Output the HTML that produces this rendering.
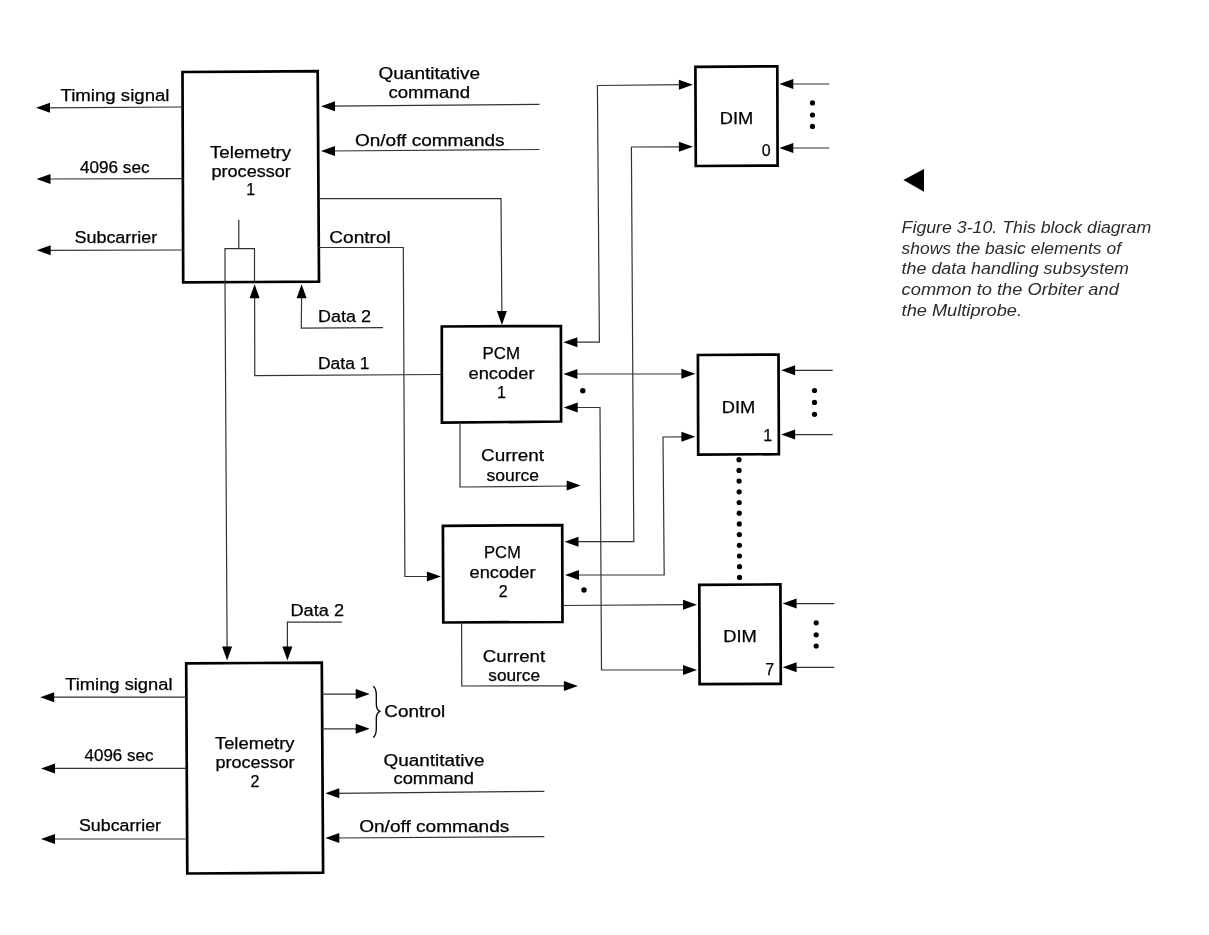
<!DOCTYPE html>
<html><head><meta charset="utf-8"><style>
html,body{margin:0;padding:0;background:#fff;}
body{width:1209px;height:935px;overflow:hidden;}
svg{display:block;will-change:transform;}
.t{font-family:"Liberation Sans",sans-serif;fill:#000;stroke:#000;stroke-width:0.25px;}
.l{stroke:#333;stroke-width:1.2px;fill:none;}
.c{font-family:"Liberation Sans",sans-serif;font-style:italic;fill:#2b2b2b;stroke:none;}
</style></head><body>
<svg width="1209" height="935" viewBox="0 0 1209 935" stroke="#000" fill="#000">
<polygon points="182.5,72 317.7,71.2 319,281.7 183.2,282.3" fill="none" stroke-width="2.7" stroke-linejoin="miter"/>
<line class="l" x1="182.5" y1="107" x2="40" y2="107.8"/>
<polygon points="36.0,107.8 50.0,102.8 50.0,112.8" stroke="none"/>
<line class="l" x1="182.7" y1="178.7" x2="40" y2="179"/>
<polygon points="36.5,179.0 50.5,174.0 50.5,184.0" stroke="none"/>
<line class="l" x1="183" y1="250" x2="40" y2="250.3"/>
<polygon points="36.7,250.3 50.7,245.3 50.7,255.3" stroke="none"/>
<text class="t" x="60.5" y="101.0" textLength="109.0" lengthAdjust="spacingAndGlyphs" font-size="16">Timing signal</text>
<text class="t" x="80.0" y="172.8" textLength="69.5" lengthAdjust="spacingAndGlyphs" font-size="16">4096 sec</text>
<text class="t" x="74.5" y="243.2" textLength="82.7" lengthAdjust="spacingAndGlyphs" font-size="16">Subcarrier</text>
<text class="t" x="210.0" y="157.5" textLength="81.0" lengthAdjust="spacingAndGlyphs" font-size="16">Telemetry</text>
<text class="t" x="211.5" y="176.5" textLength="79.3" lengthAdjust="spacingAndGlyphs" font-size="16">processor</text>
<text class="t" x="250.8" y="195.0" text-anchor="middle" font-size="16">1</text>
<line class="l" x1="539.5" y1="104.3" x2="330" y2="106.2"/>
<polygon points="321.0,106.2 335.0,101.2 335.0,111.2" stroke="none"/>
<line class="l" x1="539.5" y1="149.5" x2="330" y2="151"/>
<polygon points="321.0,151.0 335.0,146.0 335.0,156.0" stroke="none"/>
<text class="t" x="378.5" y="79.3" textLength="101.5" lengthAdjust="spacingAndGlyphs" font-size="16">Quantitative</text>
<text class="t" x="388.5" y="97.6" textLength="81.5" lengthAdjust="spacingAndGlyphs" font-size="16">command</text>
<text class="t" x="355.0" y="145.5" textLength="149.5" lengthAdjust="spacingAndGlyphs" font-size="16">On/off commands</text>
<polyline class="l" points="318.5,198.6 501,198.6 501.9,315"/>
<polygon points="501.9,325.0 496.9,311.0 506.9,311.0" stroke="none"/>
<polyline class="l" points="225,282 225,248.7 254.5,248.7 254.5,282"/>
<line class="l" x1="238.8" y1="219.7" x2="238.8" y2="248.7"/>
<line class="l" x1="225" y1="282" x2="227.1" y2="650"/>
<polygon points="227.1,660.6 222.1,646.6 232.1,646.6" stroke="none"/>
<polyline class="l" points="441.5,374.5 254.8,375.7 254.6,294"/>
<polygon points="254.6,284.2 249.6,298.2 259.6,298.2" stroke="none"/>
<text class="t" x="318.0" y="369.3" textLength="51.5" lengthAdjust="spacingAndGlyphs" font-size="16">Data 1</text>
<polyline class="l" points="383,327.6 301.3,328.2 301.6,294"/>
<polygon points="301.6,284.2 296.6,298.2 306.6,298.2" stroke="none"/>
<text class="t" x="318.0" y="321.8" textLength="53.0" lengthAdjust="spacingAndGlyphs" font-size="16">Data 2</text>
<polyline class="l" points="319,247.5 403.3,247.5 404.9,576.5 432,576.5"/>
<polygon points="440.9,576.5 426.9,571.5 426.9,581.5" stroke="none"/>
<text class="t" x="329.3" y="242.5" textLength="61.5" lengthAdjust="spacingAndGlyphs" font-size="16">Control</text>
<polygon points="441.8,326.5 560.9,326 561.1,421.5 441.9,422.7" fill="none" stroke-width="2.7" stroke-linejoin="miter"/>
<text class="t" x="482.5" y="359.0" textLength="37.5" lengthAdjust="spacingAndGlyphs" font-size="16">PCM</text>
<text class="t" x="468.5" y="378.9" textLength="66.0" lengthAdjust="spacingAndGlyphs" font-size="16">encoder</text>
<text class="t" x="501.5" y="398.0" text-anchor="middle" font-size="16">1</text>
<polyline class="l" points="685,84.7 597.4,85.5 599.4,342.2 572,342.2"/>
<polygon points="692.9,84.7 678.9,79.7 678.9,89.7" stroke="none"/>
<polygon points="563.4,342.2 577.4,337.2 577.4,347.2" stroke="none"/>
<polyline class="l" points="685,146.8 631.4,147 633.8,541.7 572,541.7"/>
<polygon points="692.9,146.8 678.9,141.8 678.9,151.8" stroke="none"/>
<polygon points="564.5,541.7 578.5,536.7 578.5,546.7" stroke="none"/>
<line class="l" x1="572" y1="374" x2="687" y2="374"/>
<polygon points="563.4,374.0 577.4,369.0 577.4,379.0" stroke="none"/>
<polygon points="695.4,373.8 681.4,368.8 681.4,378.8" stroke="none"/>
<circle cx="582.8" cy="390.8" r="2.7" stroke="none"/>
<polyline class="l" points="572,407.5 600,407.5 601.5,670 688,670"/>
<polygon points="563.7,407.5 577.7,402.5 577.7,412.5" stroke="none"/>
<polygon points="697.0,670.0 683.0,665.0 683.0,675.0" stroke="none"/>
<polyline class="l" points="460,422 460,487 570,486"/>
<polygon points="580.7,485.6 566.7,480.6 566.7,490.6" stroke="none"/>
<text class="t" x="481.0" y="461.4" textLength="63.0" lengthAdjust="spacingAndGlyphs" font-size="16">Current</text>
<text class="t" x="486.5" y="480.9" textLength="52.5" lengthAdjust="spacingAndGlyphs" font-size="16">source</text>
<polygon points="695.4,66.8 777.3,66.4 777.6,165.6 695.8,166" fill="none" stroke-width="2.7" stroke-linejoin="miter"/>
<line class="l" x1="829.4" y1="84" x2="788" y2="84"/>
<polygon points="779.3,84.0 793.3,79.0 793.3,89.0" stroke="none"/>
<line class="l" x1="829.4" y1="148" x2="788" y2="148"/>
<polygon points="779.3,148.0 793.3,143.0 793.3,153.0" stroke="none"/>
<circle cx="812.5" cy="102.9" r="2.6" stroke="none"/>
<circle cx="812.5" cy="115" r="2.6" stroke="none"/>
<circle cx="812.5" cy="126.4" r="2.6" stroke="none"/>
<text class="t" x="719.8" y="124.4" textLength="33.5" lengthAdjust="spacingAndGlyphs" font-size="16">DIM</text>
<text class="t" x="766.1" y="155.5" text-anchor="middle" font-size="16">0</text>
<polygon points="697.9,355 778.5,354.6 778.9,454.2 698.2,454.6" fill="none" stroke-width="2.7" stroke-linejoin="miter"/>
<line class="l" x1="832.7" y1="370.3" x2="790" y2="370.3"/>
<polygon points="781.1,370.3 795.1,365.3 795.1,375.3" stroke="none"/>
<line class="l" x1="832.7" y1="434.6" x2="790" y2="434.6"/>
<polygon points="781.1,434.6 795.1,429.6 795.1,439.6" stroke="none"/>
<circle cx="814.5" cy="390.5" r="2.6" stroke="none"/>
<circle cx="814.5" cy="402.4" r="2.6" stroke="none"/>
<circle cx="814.5" cy="414.3" r="2.6" stroke="none"/>
<text class="t" x="721.8" y="413.0" textLength="33.5" lengthAdjust="spacingAndGlyphs" font-size="16">DIM</text>
<text class="t" x="767.8" y="441.0" text-anchor="middle" font-size="16">1</text>
<polyline class="l" points="687,436.8 663,437 664.2,575 574,575"/>
<polygon points="695.4,436.8 681.4,431.8 681.4,441.8" stroke="none"/>
<polygon points="565.0,575.0 579.0,570.0 579.0,580.0" stroke="none"/>
<circle cx="739.0" cy="459.7" r="2.6" stroke="none"/>
<circle cx="739.05" cy="470.4" r="2.6" stroke="none"/>
<circle cx="739.1" cy="481.09999999999997" r="2.6" stroke="none"/>
<circle cx="739.15" cy="491.79999999999995" r="2.6" stroke="none"/>
<circle cx="739.2" cy="502.5" r="2.6" stroke="none"/>
<circle cx="739.25" cy="513.2" r="2.6" stroke="none"/>
<circle cx="739.3" cy="523.9" r="2.6" stroke="none"/>
<circle cx="739.35" cy="534.6" r="2.6" stroke="none"/>
<circle cx="739.4" cy="545.3" r="2.6" stroke="none"/>
<circle cx="739.45" cy="556.0" r="2.6" stroke="none"/>
<circle cx="739.5" cy="566.7" r="2.6" stroke="none"/>
<circle cx="739.55" cy="577.4" r="2.6" stroke="none"/>
<polygon points="442.9,525.8 562.2,525.2 562.5,622 443.3,622.5" fill="none" stroke-width="2.7" stroke-linejoin="miter"/>
<text class="t" x="484.0" y="558.4" textLength="37.0" lengthAdjust="spacingAndGlyphs" font-size="16">PCM</text>
<text class="t" x="469.5" y="578.2" textLength="66.0" lengthAdjust="spacingAndGlyphs" font-size="16">encoder</text>
<text class="t" x="503.2" y="597.3" text-anchor="middle" font-size="16">2</text>
<circle cx="584" cy="590" r="2.7" stroke="none"/>
<line class="l" x1="562.5" y1="605.5" x2="688" y2="604.7"/>
<polygon points="697.0,604.7 683.0,599.7 683.0,609.7" stroke="none"/>
<polyline class="l" points="461.6,622.2 461.8,686 568,685.9"/>
<polygon points="577.9,685.9 563.9,680.9 563.9,690.9" stroke="none"/>
<text class="t" x="482.8" y="662.3" textLength="62.4" lengthAdjust="spacingAndGlyphs" font-size="16">Current</text>
<text class="t" x="488.3" y="681.0" textLength="51.7" lengthAdjust="spacingAndGlyphs" font-size="16">source</text>
<polygon points="699.3,584.8 780.4,584.4 780.8,683.8 699.6,684.2" fill="none" stroke-width="2.7" stroke-linejoin="miter"/>
<line class="l" x1="834.3" y1="603.6" x2="791" y2="603.6"/>
<polygon points="782.6,603.6 796.6,598.6 796.6,608.6" stroke="none"/>
<line class="l" x1="834.3" y1="667.3" x2="791" y2="667.3"/>
<polygon points="782.6,667.3 796.6,662.3 796.6,672.3" stroke="none"/>
<circle cx="816.2" cy="622.8" r="2.6" stroke="none"/>
<circle cx="816.2" cy="634.8" r="2.6" stroke="none"/>
<circle cx="816.2" cy="646" r="2.6" stroke="none"/>
<text class="t" x="723.2" y="642.3" textLength="33.6" lengthAdjust="spacingAndGlyphs" font-size="16">DIM</text>
<text class="t" x="769.8" y="675.4" text-anchor="middle" font-size="16">7</text>
<polygon points="186.2,663.4 321.8,662.6 323.1,872.7 187.3,873.5" fill="none" stroke-width="2.7" stroke-linejoin="miter"/>
<polyline class="l" points="342,622.2 287.4,622.2 287.4,650"/>
<polygon points="287.4,660.6 282.4,646.6 292.4,646.6" stroke="none"/>
<text class="t" x="290.5" y="616.0" textLength="53.5" lengthAdjust="spacingAndGlyphs" font-size="16">Data 2</text>
<line class="l" x1="322" y1="694.1" x2="358" y2="694.1"/>
<polygon points="369.7,694.1 355.7,689.1 355.7,699.1" stroke="none"/>
<line class="l" x1="322" y1="728.8" x2="358" y2="728.8"/>
<polygon points="369.7,728.8 355.7,723.8 355.7,733.8" stroke="none"/>
<path d="M373.2,686.3 Q376.3,688.5 376.3,695 L376.3,704 Q376.3,709.5 379.8,711.3 Q376.3,713 376.3,718.5 L376.3,729 Q376.3,735 373.2,737.4" fill="none" stroke-width="1.3"/>
<text class="t" x="384.3" y="717.0" textLength="61.0" lengthAdjust="spacingAndGlyphs" font-size="16">Control</text>
<line class="l" x1="186.2" y1="697.2" x2="50" y2="697.2"/>
<polygon points="40.2,697.2 54.2,692.2 54.2,702.2" stroke="none"/>
<line class="l" x1="186.2" y1="768.4" x2="50" y2="768.4"/>
<polygon points="41.0,768.4 55.0,763.4 55.0,773.4" stroke="none"/>
<line class="l" x1="187" y1="839" x2="50" y2="839"/>
<polygon points="41.0,839.0 55.0,834.0 55.0,844.0" stroke="none"/>
<text class="t" x="65.3" y="689.8" textLength="107.2" lengthAdjust="spacingAndGlyphs" font-size="16">Timing signal</text>
<text class="t" x="84.5" y="761.2" textLength="69.0" lengthAdjust="spacingAndGlyphs" font-size="16">4096 sec</text>
<text class="t" x="79.0" y="831.4" textLength="82.0" lengthAdjust="spacingAndGlyphs" font-size="16">Subcarrier</text>
<text class="t" x="215.0" y="748.8" textLength="79.5" lengthAdjust="spacingAndGlyphs" font-size="16">Telemetry</text>
<text class="t" x="215.5" y="768.0" textLength="79.0" lengthAdjust="spacingAndGlyphs" font-size="16">processor</text>
<text class="t" x="254.9" y="786.6" text-anchor="middle" font-size="16">2</text>
<line class="l" x1="544.4" y1="791.3" x2="335" y2="793.3"/>
<polygon points="325.3,793.3 339.3,788.3 339.3,798.3" stroke="none"/>
<line class="l" x1="544.4" y1="836.7" x2="335" y2="838"/>
<polygon points="325.3,838.0 339.3,833.0 339.3,843.0" stroke="none"/>
<text class="t" x="383.5" y="766.0" textLength="101.0" lengthAdjust="spacingAndGlyphs" font-size="16">Quantitative</text>
<text class="t" x="393.5" y="784.4" textLength="80.5" lengthAdjust="spacingAndGlyphs" font-size="16">command</text>
<text class="t" x="359.2" y="831.7" textLength="150.1" lengthAdjust="spacingAndGlyphs" font-size="16">On/off commands</text>
<polygon points="903.4,180.1 924,169 924,191.7" stroke="none"/>
<text class="c" x="901.6" y="232.8" textLength="249.6" lengthAdjust="spacingAndGlyphs" font-size="17">Figure 3-10. This block diagram</text>
<text class="c" x="901.6" y="253.5" textLength="219.4" lengthAdjust="spacingAndGlyphs" font-size="17">shows the basic elements of</text>
<text class="c" x="901.6" y="274.3" textLength="227.4" lengthAdjust="spacingAndGlyphs" font-size="17">the data handling subsystem</text>
<text class="c" x="901.6" y="295.0" textLength="217.2" lengthAdjust="spacingAndGlyphs" font-size="17">common to the Orbiter and</text>
<text class="c" x="901.6" y="315.8" textLength="120.4" lengthAdjust="spacingAndGlyphs" font-size="17">the Multiprobe.</text>
</svg>
</body></html>
